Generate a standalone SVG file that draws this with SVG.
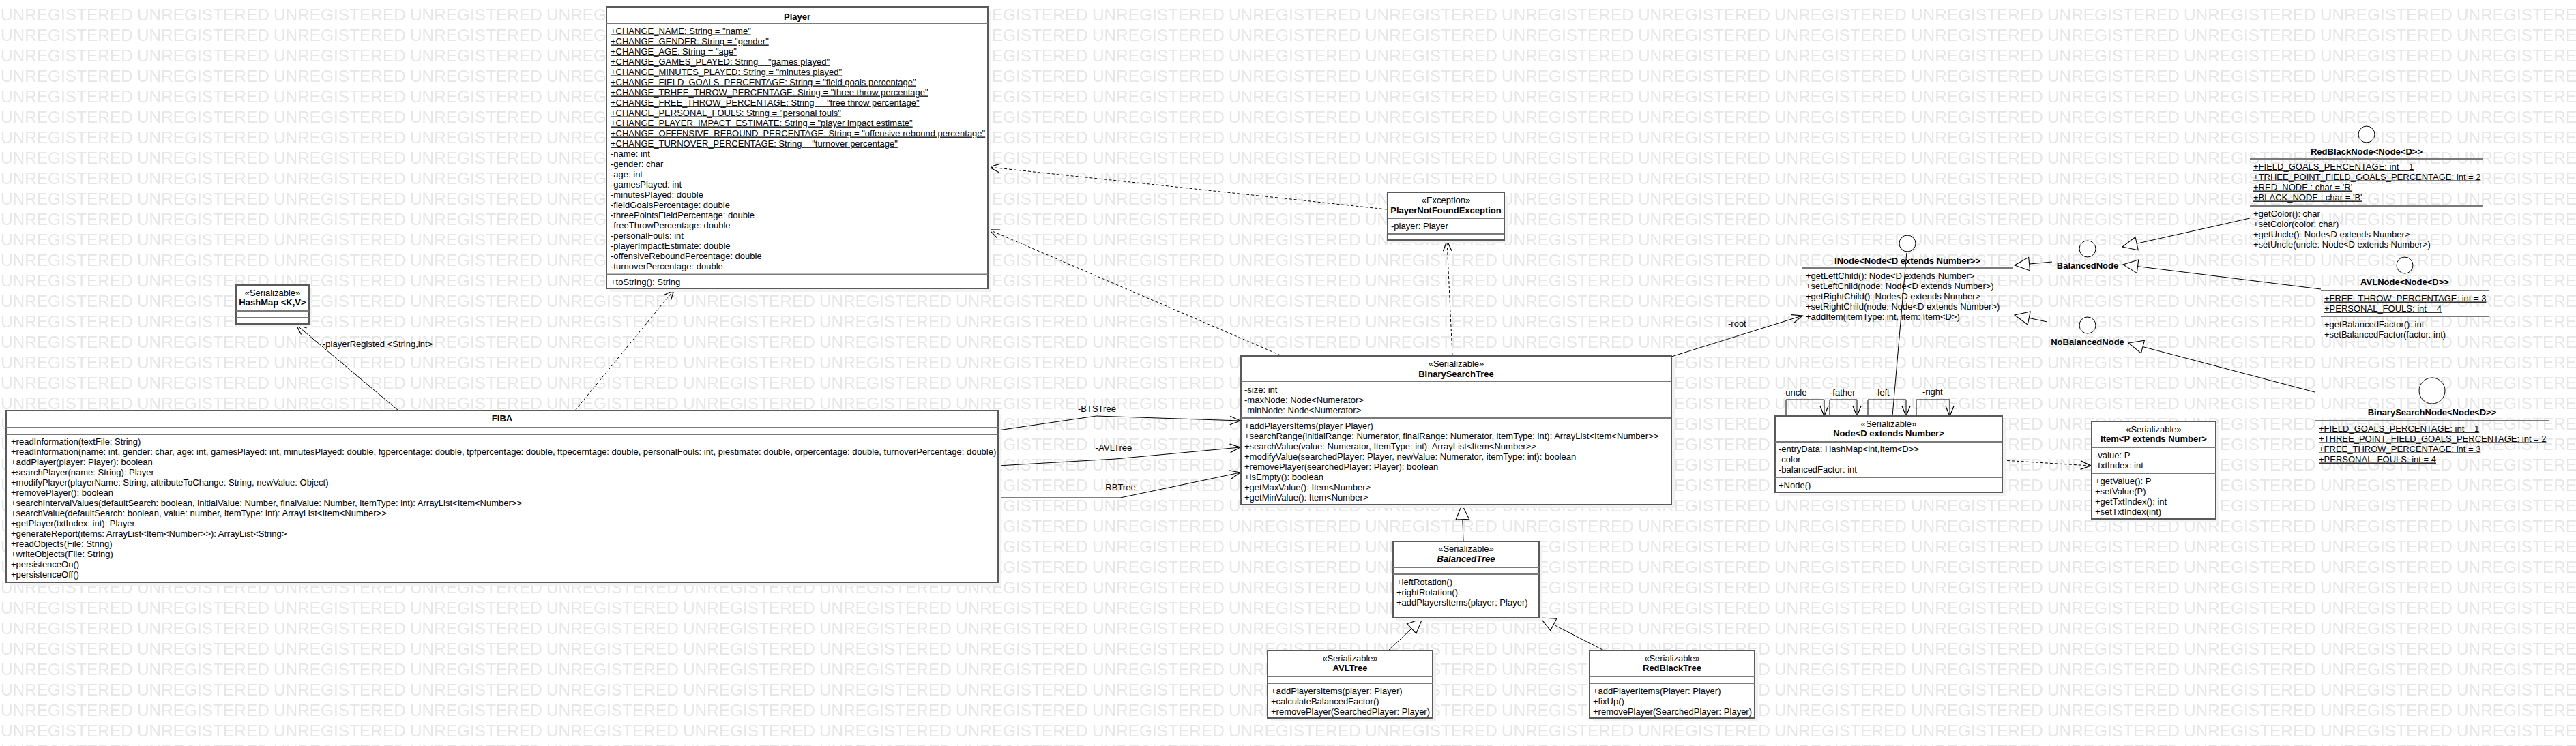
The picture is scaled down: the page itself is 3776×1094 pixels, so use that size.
<svg xmlns="http://www.w3.org/2000/svg" width="3776" height="1094" viewBox="0 0 3776 1094">
<style>
.t{font-family:"Liberation Sans",Arial,sans-serif;font-size:13px;fill:#000}
.b{font-weight:bold}
.i{font-style:italic}
.c{text-anchor:middle}
.u{text-decoration:underline}
.box{fill:#fff;stroke:#5a5a5a;stroke-width:2}
.sh{fill:#f2f2f2}
.sep{stroke:#7a7a7a;stroke-width:2}
.ln{stroke:#000;stroke-width:1;fill:none}
.dl{stroke:#000;stroke-width:1;fill:none;stroke-dasharray:4 3}
.cir{fill:#fff;stroke:#000;stroke-width:1}
.wm{font-family:"Liberation Sans",Arial,sans-serif;font-size:24.4px;fill:#e6e6e6}
</style>
<defs>
<pattern id="wmp" patternUnits="userSpaceOnUse" x="1" y="10" width="200" height="30">
<text class="wm" x="0" y="20.4">UNREGISTERED</text>
</pattern>
<marker id="open" markerUnits="userSpaceOnUse" markerWidth="20" markerHeight="20" viewBox="-14 -8 16 16" refX="0" refY="0" orient="auto">
<path d="M-12,-5 L0,0 L-12,5" fill="none" stroke="#000" stroke-width="1"/>
</marker>
<marker id="tri" markerUnits="userSpaceOnUse" markerWidth="26" markerHeight="24" viewBox="-22 -11 24 22" refX="0" refY="0" orient="auto">
<path d="M-20,-9 L0,0 L-20,9 Z" fill="#fff" stroke="#000" stroke-width="1"/>
</marker>
</defs>
<rect width="3776" height="1094" fill="#fff"/>
<rect id="watermark" width="3776" height="1094" fill="url(#wmp)"/>

<g id="connectors">
<path class="ln" d="M584,602 L434,476" marker-end="url(#open)"/>
<text class="t" x="473" y="508.5">-playerRegisted &lt;String,int&gt;</text>
<path class="dl" d="M843,602 L988,425" marker-end="url(#open)"/>
<path class="ln" d="M1463,631 L1607,610 L1818,617" marker-end="url(#open)"/>
<text class="t" x="1580" y="603.5">-BTSTree</text>
<path class="ln" d="M1463,683 L1635,673 L1818,656" marker-end="url(#open)"/>
<text class="t" x="1606" y="660.5">-AVLTree</text>
<path class="ln" d="M1463,730 L1642,730 L1818,693" marker-end="url(#open)"/>
<text class="t" x="1616" y="718.5">-RBTree</text>
<path class="dl" d="M1877,521 L1450,337" marker-end="url(#open)"/>
<path class="dl" d="M2033,307 L1450,245" marker-end="url(#open)"/>
<path class="dl" d="M2129,521 L2121,353" marker-end="url(#open)"/>
<path class="ln" d="M2450,523 L2642,463" marker-end="url(#open)"/>
<text class="t" x="2533" y="478.5">-root</text>
<path class="ln" d="M2145,793 L2143,740" marker-end="url(#tri)"/>
<path class="ln" d="M2035,954 L2085,907" marker-end="url(#tri)"/>
<path class="ln" d="M2351,954 L2258,906" marker-end="url(#tri)"/>
<path class="ln" d="M2774,610 L2795,369"/>
<path class="ln" d="M2618,610 V586 H2674 V610" marker-end="url(#open)"/>
<text class="t" x="2613" y="579.5">-uncle</text>
<path class="ln" d="M2682,610 V586 H2722 V610" marker-end="url(#open)"/>
<text class="t" x="2682" y="579.5">-father</text>
<path class="ln" d="M2738,610 V586 H2794 V610" marker-end="url(#open)"/>
<text class="t" x="2748" y="579.5">-left</text>
<path class="ln" d="M2809,610 V586 H2858 V610" marker-end="url(#open)"/>
<text class="t" x="2818" y="578.5">-right</text>
<path class="dl" d="M2935,675 L3065,683" marker-end="url(#open)"/>
<path class="ln" d="M3008,384 L2953,389" marker-end="url(#tri)"/>
<path class="ln" d="M3001,472 L2953,462" marker-end="url(#tri)"/>
<path class="ln" d="M3298,320 L3111,362" marker-end="url(#tri)"/>
<path class="ln" d="M3402,424 L3112,388" marker-end="url(#tri)"/>
<path class="ln" d="M3393,575 L3120,503" marker-end="url(#tri)"/>
</g>

<g id="Player">
<rect class="sh" x="894" y="15" width="559" height="413"/>
<rect class="box" x="889" y="10" width="559" height="413"/>
<text class="t b c" x="1168.5" y="28.5">Player</text>
<line class="sep" x1="889" y1="34" x2="1448" y2="34"/>
<text class="t u" x="895" y="49.5">+CHANGE_NAME: String = "name"</text>
<text class="t u" x="895" y="64.5">+CHANGE_GENDER: String = "gender"</text>
<text class="t u" x="895" y="79.5">+CHANGE_AGE: String = "age"</text>
<text class="t u" x="895" y="94.5">+CHANGE_GAMES_PLAYED: String = "games played"</text>
<text class="t u" x="895" y="109.5">+CHANGE_MINUTES_PLAYED: String = "minutes played"</text>
<text class="t u" x="895" y="124.5">+CHANGE_FIELD_GOALS_PERCENTAGE: String = "field goals percentage"</text>
<text class="t u" x="895" y="139.5">+CHANGE_TRHEE_THROW_PERCENTAGE: String = "three throw percentage"</text>
<text class="t u" x="895" y="154.5" style="white-space:pre">+CHANGE_FREE_THROW_PERCENTAGE: String  = "free throw percentage"</text>
<text class="t u" x="895" y="169.5">+CHANGE_PERSONAL_FOULS: String = "personal fouls"</text>
<text class="t u" x="895" y="184.5">+CHANGE_PLAYER_IMPACT_ESTIMATE: String = "player impact estimate"</text>
<text class="t u" x="895" y="199.5">+CHANGE_OFFENSIVE_REBOUND_PERCENTAGE: String = "offensive rebound percentage"</text>
<text class="t u" x="895" y="214.5">+CHANGE_TURNOVER_PERCENTAGE: String = "turnover percentage"</text>
<text class="t" x="895" y="229.5">-name: int</text>
<text class="t" x="895" y="244.5">-gender: char</text>
<text class="t" x="895" y="259.5">-age: int</text>
<text class="t" x="895" y="274.5">-gamesPlayed: int</text>
<text class="t" x="895" y="289.5">-minutesPlayed: double</text>
<text class="t" x="895" y="304.5">-fieldGoalsPercentage: double</text>
<text class="t" x="895" y="319.5">-threePointsFieldPercentage: double</text>
<text class="t" x="895" y="334.5">-freeThrowPercentage: double</text>
<text class="t" x="895" y="349.5">-personalFouls: int</text>
<text class="t" x="895" y="364.5">-playerImpactEstimate: double</text>
<text class="t" x="895" y="379.5">-offensiveReboundPercentage: double</text>
<text class="t" x="895" y="394.5">-turnoverPercentage: double</text>
<line class="sep" x1="889" y1="402.5" x2="1448" y2="402.5"/>
<text class="t" x="895" y="417.5">+toString(): String</text>
</g>

<g id="HashMap">
<rect class="sh" x="351" y="423" width="107" height="57"/>
<rect class="box" x="346" y="418" width="107" height="57"/>
<text class="t c" x="399.5" y="433.5">«Serializable»</text>
<text class="t b c" x="399.5" y="447.5">HashMap &lt;K,V&gt;</text>
<line class="sep" x1="346" y1="456" x2="453" y2="456"/>
<line class="sep" x1="346" y1="466" x2="453" y2="466"/>
</g>

<g id="FIBA">
<rect class="sh" x="14" y="607" width="1454" height="252"/>
<rect class="box" x="9" y="602" width="1454" height="252"/>
<text class="t b c" x="736" y="617.5">FIBA</text>
<line class="sep" x1="9" y1="627" x2="1463" y2="627"/>
<line class="sep" x1="9" y1="637" x2="1463" y2="637"/>
<text class="t" x="16" y="651.5">+readInformation(textFile: String)</text>
<text class="t" x="16" y="666.5">+readInformation(name: int, gender: char, age: int, gamesPlayed: int, minutesPlayed: double, fgpercentage: double, tpfpercentage: double, ftpecerntage: double, personalFouls: int, piestimate: double, orpercentage: double, turnoverPercentage: double)</text>
<text class="t" x="16" y="681.5">+addPlayer(player: Player): boolean</text>
<text class="t" x="16" y="696.5">+searchPlayer(name: String): Player</text>
<text class="t" x="16" y="711.5">+modifyPlayer(playerName: String, attributeToChange: String, newValue: Object)</text>
<text class="t" x="16" y="726.5">+removePlayer(): boolean</text>
<text class="t" x="16" y="741.5">+searchIntervalValues(defaultSearch: boolean, initialValue: Number, finalValue: Number, itemType: int): ArrayList&lt;Item&lt;Number&gt;&gt;</text>
<text class="t" x="16" y="756.5">+searchValue(defaultSearch: boolean, value: number, itemType: int): ArrayList&lt;Item&lt;Number&gt;&gt;</text>
<text class="t" x="16" y="771.5">+getPlayer(txtIndex: int): Player</text>
<text class="t" x="16" y="786.5">+generateReport(items: ArrayList&lt;Item&lt;Number&gt;&gt;): ArrayList&lt;String&gt;</text>
<text class="t" x="16" y="801.5">+readObjects(File: String)</text>
<text class="t" x="16" y="816.5">+writeObjects(File: String)</text>
<text class="t" x="16" y="831.5">+persistenceOn()</text>
<text class="t" x="16" y="846.5">+persistenceOff()</text>
</g>

<g id="PlayerNotFoundException">
<rect class="sh" x="2039" y="287" width="171" height="70"/>
<rect class="box" x="2034" y="282" width="171" height="70"/>
<text class="t c" x="2119.5" y="297.5">«Exception»</text>
<text class="t b c" x="2119.5" y="312.5">PlayerNotFoundException</text>
<line class="sep" x1="2034" y1="320" x2="2205" y2="320"/>
<text class="t" x="2039" y="335.5">-player: Player</text>
<line class="sep" x1="2034" y1="343" x2="2205" y2="343"/>
</g>

<g id="BinarySearchTree">
<rect class="sh" x="1824" y="527" width="631" height="218"/>
<rect class="box" x="1819" y="522" width="631" height="218"/>
<text class="t c" x="2134.5" y="537.5">«Serializable»</text>
<text class="t b c" x="2134.5" y="552.5">BinarySearchTree</text>
<line class="sep" x1="1819" y1="559" x2="2450" y2="559"/>
<text class="t" x="1824" y="575.5">-size: int</text>
<text class="t" x="1824" y="590.5">-maxNode: Node&lt;Numerator&gt;</text>
<text class="t" x="1824" y="605.5">-minNode: Node&lt;Numerator&gt;</text>
<line class="sep" x1="1819" y1="613" x2="2450" y2="613"/>
<text class="t" x="1824" y="628.5">+addPlayersItems(player Player)</text>
<text class="t" x="1824" y="643.5">+searchRange(initialRange: Numerator, finalRange: Numerator, itemType: int): ArrayList&lt;Item&lt;Number&gt;&gt;</text>
<text class="t" x="1824" y="658.5">+searchValue(value: Numerator, ItemType: int): ArrayList&lt;Item&lt;Number&gt;&gt;</text>
<text class="t" x="1824" y="673.5">+modifyValue(searchedPlayer: Player, newValue: Numerator, itemType: int): boolean</text>
<text class="t" x="1824" y="688.5">+removePlayer(searchedPlayer: Player): boolean</text>
<text class="t" x="1824" y="703.5">+isEmpty(): boolean</text>
<text class="t" x="1824" y="718.5">+getMaxValue(): Item&lt;Number&gt;</text>
<text class="t" x="1824" y="733.5">+getMinValue(): Item&lt;Number&gt;</text>
</g>

<g id="BalancedTree">
<rect class="sh" x="2047" y="799" width="214" height="112"/>
<rect class="box" x="2042" y="794" width="214" height="112"/>
<text class="t c" x="2149" y="808.5">«Serializable»</text>
<text class="t b i c" x="2149" y="823.5">BalancedTree</text>
<line class="sep" x1="2042" y1="832" x2="2256" y2="832"/>
<line class="sep" x1="2042" y1="842" x2="2256" y2="842"/>
<text class="t" x="2047" y="857.5">+leftRotation()</text>
<text class="t" x="2047" y="872.5">+rightRotation()</text>
<text class="t" x="2047" y="887.5">+addPlayersItems(player: Player)</text>
</g>

<g id="AVLTree">
<rect class="sh" x="1863" y="959" width="242" height="99"/>
<rect class="box" x="1858" y="954" width="242" height="99"/>
<text class="t c" x="1979" y="969.5">«Serializable»</text>
<text class="t b c" x="1979" y="983.5">AVLTree</text>
<line class="sep" x1="1858" y1="992" x2="2100" y2="992"/>
<line class="sep" x1="1858" y1="1002" x2="2100" y2="1002"/>
<text class="t" x="1863" y="1017.5">+addPlayersItems(player: Player)</text>
<text class="t" x="1863" y="1032.5">+calculateBalancedFactor()</text>
<text class="t" x="1863" y="1047.5">+removePlayer(SearchedPlayer: Player)</text>
</g>

<g id="RedBlackTree">
<rect class="sh" x="2335" y="959" width="242" height="99"/>
<rect class="box" x="2330" y="954" width="242" height="99"/>
<text class="t c" x="2451" y="969.5">«Serializable»</text>
<text class="t b c" x="2451" y="983.5">RedBlackTree</text>
<line class="sep" x1="2330" y1="992" x2="2572" y2="992"/>
<line class="sep" x1="2330" y1="1002" x2="2572" y2="1002"/>
<text class="t" x="2335" y="1017.5">+addPlayerItems(Player: Player)</text>
<text class="t" x="2335" y="1032.5">+fixUp()</text>
<text class="t" x="2335" y="1047.5">+removePlayer(SearchedPlayer: Player)</text>
</g>

<g id="INode">
<circle class="sh" cx="2799" cy="360" r="12"/>
<circle class="cir" cx="2796" cy="357" r="12"/>
<text class="t b c" x="2796" y="386.5">INode&lt;Node&lt;D extends Number&gt;&gt;</text>
<line class="sep" x1="2642" y1="393" x2="2951" y2="393"/>
<text class="t" x="2647" y="408.5">+getLeftChild(): Node&lt;D extends Number&gt;</text>
<text class="t" x="2647" y="423.5">+setLeftChild(node: Node&lt;D extends Number&gt;)</text>
<text class="t" x="2647" y="438.5">+getRightChild(): Node&lt;D extends Number&gt;</text>
<text class="t" x="2647" y="453.5">+setRightChild(node: Node&lt;D extends Number&gt;)</text>
<text class="t" x="2647" y="468.5">+addItem(itemType: int, item: Item&lt;D&gt;)</text>
</g>

<g id="Node">
<rect class="sh" x="2607" y="615" width="333" height="112"/>
<rect class="box" x="2602" y="610" width="333" height="112"/>
<text class="t c" x="2768.5" y="625.5">«Serializable»</text>
<text class="t b c" x="2768.5" y="639.5">Node&lt;D extends Number&gt;</text>
<line class="sep" x1="2602" y1="648" x2="2935" y2="648"/>
<text class="t" x="2607" y="662.5">-entryData: HashMap&lt;int,Item&lt;D&gt;&gt;</text>
<text class="t" x="2607" y="677.5">-color</text>
<text class="t" x="2607" y="692.5">-balancedFactor: int</text>
<line class="sep" x1="2602" y1="700" x2="2935" y2="700"/>
<text class="t" x="2607" y="715.5">+Node()</text>
</g>

<g id="Item">
<rect class="sh" x="3071" y="623" width="182" height="143"/>
<rect class="box" x="3066" y="618" width="182" height="143"/>
<text class="t c" x="3157" y="633.5">«Serializable»</text>
<text class="t b c" x="3157" y="647.5">Item&lt;P extends Number&gt;</text>
<line class="sep" x1="3066" y1="656" x2="3248" y2="656"/>
<text class="t" x="3071" y="671.5">-value: P</text>
<text class="t" x="3071" y="686.5">-txtIndex: int</text>
<line class="sep" x1="3066" y1="694" x2="3248" y2="694"/>
<text class="t" x="3071" y="709.5">+getValue(): P</text>
<text class="t" x="3071" y="724.5">+setValue(P)</text>
<text class="t" x="3071" y="739.5">+getTxtIndex(): int</text>
<text class="t" x="3071" y="754.5">+setTxtIndex(int)</text>
</g>

<g id="BalancedNode">
<circle class="sh" cx="3063" cy="368" r="12"/>
<circle class="cir" cx="3060" cy="365" r="12"/>
<text class="t b c" x="3060" y="393.5">BalancedNode</text>
</g>

<g id="NoBalancedNode">
<circle class="sh" cx="3063" cy="480" r="12"/>
<circle class="cir" cx="3060" cy="477" r="12"/>
<text class="t b c" x="3060" y="506">NoBalancedNode</text>
</g>

<g id="RedBlackNode">
<circle class="sh" cx="3472" cy="200" r="12"/>
<circle class="cir" cx="3469" cy="197" r="12"/>
<text class="t b c" x="3469" y="226.5">RedBlackNode&lt;Node&lt;D&gt;&gt;</text>
<line class="sep" x1="3298" y1="233" x2="3640" y2="233"/>
<text class="t u" x="3303" y="248.5">+FIELD_GOALS_PERCENTAGE: int = 1</text>
<text class="t u" x="3303" y="263.5">+TRHEE_POINT_FIELD_GOALS_PERCENTAGE: int = 2</text>
<text class="t u" x="3303" y="278.5">+RED_NODE : char = 'R'</text>
<text class="t u" x="3303" y="293.5">+BLACK_NODE : char = 'B'</text>
<line class="sep" x1="3298" y1="302" x2="3640" y2="302"/>
<text class="t" x="3303" y="317.5">+getColor(): char</text>
<text class="t" x="3303" y="332.5">+setColor(color: char)</text>
<text class="t" x="3303" y="347.5">+getUncle(): Node&lt;D extends Number&gt;</text>
<text class="t" x="3303" y="362.5">+setUncle(uncle: Node&lt;D extends Number&gt;)</text>
</g>

<g id="AVLNode">
<circle class="sh" cx="3528" cy="392" r="12"/>
<circle class="cir" cx="3525" cy="389" r="12"/>
<text class="t b c" x="3525" y="417.5">AVLNode&lt;Node&lt;D&gt;&gt;</text>
<line class="sep" x1="3402" y1="426" x2="3648" y2="426"/>
<text class="t u" x="3407" y="441.5">+FREE_THROW_PERCENTAGE: int = 3</text>
<text class="t u" x="3407" y="456.5">+PERSONAL_FOULS: int = 4</text>
<line class="sep" x1="3402" y1="464" x2="3648" y2="464"/>
<text class="t" x="3407" y="479.5">+getBalancedFactor(): int</text>
<text class="t" x="3407" y="494.5">+setBalancedFactor(factor: int)</text>
</g>

<g id="BinarySearchNode">
<circle class="sh" cx="3568" cy="576" r="19"/>
<circle class="cir" cx="3565" cy="573" r="19"/>
<text class="t b c" x="3565" y="608.5">BinarySearchNode&lt;Node&lt;D&gt;&gt;</text>
<line class="sep" x1="3394" y1="617" x2="3737" y2="617"/>
<text class="t u" x="3399" y="632.5">+FIELD_GOALS_PERCENTAGE: int = 1</text>
<text class="t u" x="3399" y="647.5">+THREE_POINT_FIELD_GOALS_PERCENTAGE: int = 2</text>
<text class="t u" x="3399" y="662.5">+FREE_THROW_PERCENTAGE: int = 3</text>
<text class="t u" x="3399" y="677.5">+PERSONAL_FOULS: int = 4</text>
</g>
</svg>
